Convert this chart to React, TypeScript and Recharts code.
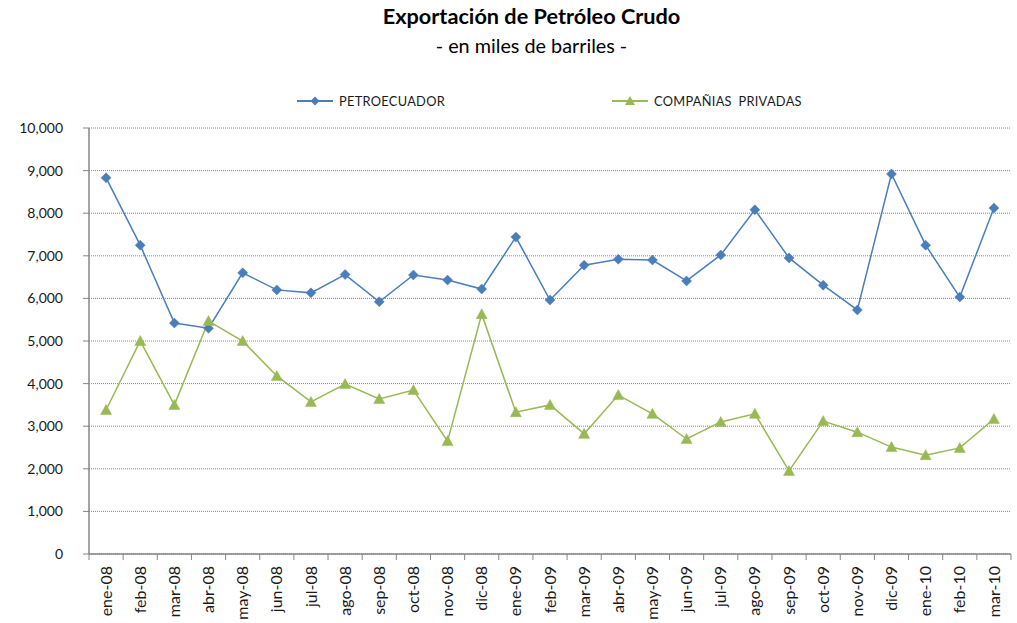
import { LineChart, Line, XAxis, YAxis, CartesianGrid } from 'recharts';

const months = [
    'ene-08', 'feb-08', 'mar-08', 'abr-08', 'may-08', 'jun-08', 'jul-08', 'ago-08', 'sep-08',
    'oct-08', 'nov-08', 'dic-08', 'ene-09', 'feb-09', 'mar-09', 'abr-09', 'may-09', 'jun-09',
    'jul-09', 'ago-09', 'sep-09', 'oct-09', 'nov-09', 'dic-09', 'ene-10', 'feb-10', 'mar-10',
];

const petroecuador = [
    8830, 7250, 5420, 5300, 6600, 6200, 6130, 6560, 5920,
    6550, 6430, 6220, 7440, 5960, 6780, 6920, 6900, 6410,
    7020, 8080, 6950, 6310, 5730, 8920, 7250, 6030, 8120,
];

const privadas = [
    3380, 5000, 3500, 5470, 5000, 4180, 3570, 3990, 3640,
    3850, 2650, 5630, 3330, 3500, 2820, 3730, 3290, 2700,
    3100, 3290, 1950, 3120, 2860, 2510, 2320, 2490, 3170,
];

const yTicks = [0, 1000, 2000, 3000, 4000, 5000, 6000, 7000, 8000, 9000, 10000];

const BLUE = '#4A7EBB';
const GREEN = '#98B954';
const AXIS = '#868686';
const FONT = 'Lato, "Open Sans", sans-serif';

const PLOT_LEFT = 89;
const PLOT_RIGHT = 1011;
const PLOT_BOTTOM = 554;
const BAND = (PLOT_RIGHT - PLOT_LEFT) / months.length;

const data = months.map((mes, i) => ({
    mes,
    petro: petroecuador[i],
    priv: privadas[i],
}));

const Diamond = (props: any) => {
    const { cx, cy } = props;
    if (cx == null || cy == null) return null;
    const r = 5;
    return <path d={`M${cx},${cy - r}L${cx + r},${cy}L${cx},${cy + r}L${cx - r},${cy}Z`} fill={BLUE} stroke={BLUE} strokeWidth={0.5} />;
};

const Triangle = (props: any) => {
    const { cx, cy } = props;
    if (cx == null || cy == null) return null;
    return <path d={`M${cx},${cy - 5.5}L${cx + 5.5},${cy + 4.5}L${cx - 5.5},${cy + 4.5}Z`} fill={GREEN} stroke={GREEN} strokeWidth={0.5} />;
};

const XTick = (props: any) => {
    const { x, payload, index } = props;
    const left = x - BAND / 2;
    return (
        <g>
            <line x1={left} y1={PLOT_BOTTOM} x2={left} y2={PLOT_BOTTOM + 6} stroke={AXIS} />
            {index === months.length - 1 && (
                <line x1={x + BAND / 2} y1={PLOT_BOTTOM} x2={x + BAND / 2} y2={PLOT_BOTTOM + 6} stroke={AXIS} />
            )}
            <text
                x={x}
                y={566}
                transform={`rotate(-90, ${x}, 566)`}
                textAnchor="end"
                dy="0.35em"
                fill="#1a1a1a"
                fontSize={16}
                fontFamily={FONT}
            >
                {payload.value}
            </text>
        </g>
    );
};

const LegendItem = ({ color, label, marker }: { color: string; label: string; marker: 'diamond' | 'triangle' }) => (
    <div style={{ display: 'flex', alignItems: 'center' }}>
        <svg width={38} height={12}>
            <line x1={1} y1={6} x2={37} y2={6} stroke={color} strokeWidth={2} />
            {marker === 'diamond' ? (
                <path d="M19,1.5L23.5,6L19,10.5L14.5,6Z" fill={color} />
            ) : (
                <path d="M19,1L24,10L14,10Z" fill={color} />
            )}
        </svg>
        <span style={{ marginLeft: 5, fontSize: 12.8, color: '#1a1a1a', letterSpacing: 0.3, wordSpacing: 3 }}>{label}</span>
    </div>
);

const App = () => {
    return (
        <div style={{ position: 'absolute', left: 0, top: 0, width: 1017, height: 623, background: '#fff', fontFamily: FONT }}>
            <div style={{ position: 'absolute', top: 3, left: 23, width: 1017, textAlign: 'center', fontSize: 21.7, fontWeight: 700, color: '#000' }}>
                Exportación de Petróleo Crudo
            </div>
            <div style={{ position: 'absolute', top: 33, left: 23, width: 1017, textAlign: 'center', fontSize: 19.8, color: '#000' }}>
                - en miles de barriles -
            </div>
            <div style={{ position: 'absolute', top: 93, left: 296 }}>
                <LegendItem color={BLUE} label="PETROECUADOR" marker="diamond" />
            </div>
            <div style={{ position: 'absolute', top: 93, left: 611 }}>
                <LegendItem color={GREEN} label="COMPAÑIAS PRIVADAS" marker="triangle" />
            </div>
            <LineChart
                width={1017}
                height={623}
                data={data}
                margin={{ top: 128, right: 1017 - PLOT_RIGHT, bottom: 0, left: PLOT_LEFT - 80 }}
            >
                <CartesianGrid vertical={false} stroke={AXIS} strokeDasharray="1 1" />
                <XAxis
                    dataKey="mes"
                    scale="band"
                    interval={0}
                    height={623 - PLOT_BOTTOM}
                    axisLine={{ stroke: AXIS, strokeWidth: 1.5 }}
                    tickLine={false}
                    tick={<XTick />}
                />
                <YAxis
                    width={80}
                    domain={[0, 10000]}
                    ticks={yTicks}
                    interval={0}
                    axisLine={{ stroke: AXIS, strokeWidth: 1.5 }}
                    tickLine={{ stroke: AXIS }}
                    tickSize={6}
                    tickMargin={20}
                    tickFormatter={(v: number) => v.toLocaleString('en-US')}
                    tick={{ fill: '#1a1a1a', fontSize: 14, fontFamily: FONT }}
                />
                <Line
                    type="linear"
                    dataKey="petro"
                    stroke={BLUE}
                    strokeWidth={1.5}
                    dot={<Diamond />}
                    activeDot={false}
                    isAnimationActive={false}
                />
                <Line
                    type="linear"
                    dataKey="priv"
                    stroke={GREEN}
                    strokeWidth={1.5}
                    dot={<Triangle />}
                    activeDot={false}
                    isAnimationActive={false}
                />
            </LineChart>
        </div>
    );
};

export default App;
